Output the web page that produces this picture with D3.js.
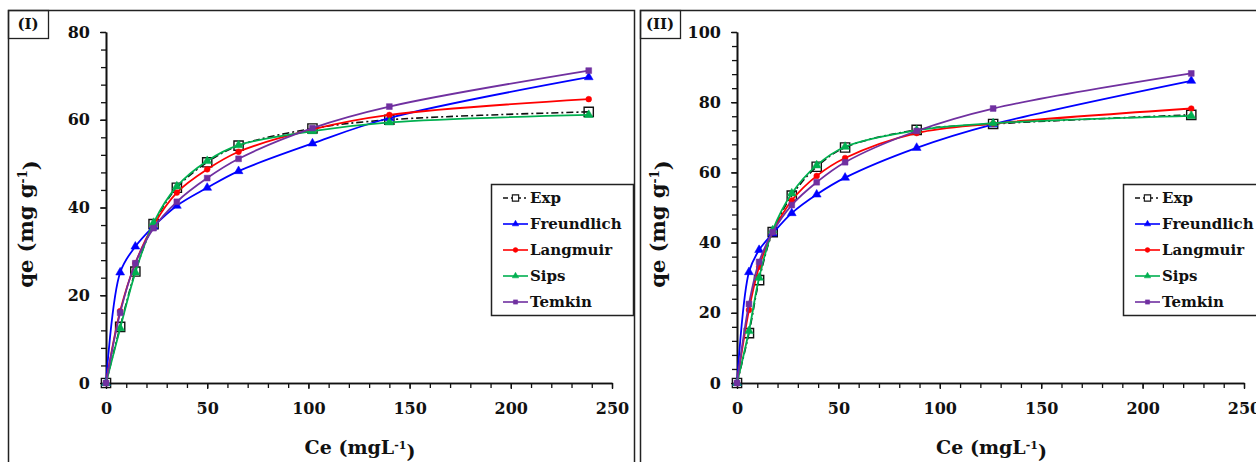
<!DOCTYPE html>
<html>
<head>
<meta charset="utf-8">
<script src="https://cdn.jsdelivr.net/npm/d3@7/dist/d3.min.js"></script>
<style>
  body { margin: 0; background: #fff; }
  text { font-family: "DejaVu Serif", serif; font-weight: bold; fill: #111; }
</style>
</head>
<body>
<script>
// ---- data ----
// panel (I)
const ceI          = [0, 7, 14.5, 23.5, 35, 50, 65.5, 102, 140, 238.5]
const expI         = [0, 12.8, 25.4, 36.2, 44.5, 50.3, 54.1, 58.0, 60.0, 61.8]
const freundlichI  = [0, 25.2, 31.1, 35.7, 40.4, 44.5, 48.3, 54.6, 60.4, 69.7]
const langmuirI    = [0, 16.4, 27.3, 36.0, 43.4, 48.7, 52.7, 57.8, 61.1, 64.7]
const sipsI        = [0, 12.5, 25.2, 36.5, 44.8, 50.6, 54.2, 57.4, 59.4, 61.1]
const temkinI      = [0, 16.0, 27.3, 35.3, 41.3, 46.7, 51.1, 58.1, 63.0, 71.2]

// panel (II)
const ceII         = [0, 5.9, 10.9, 17.6, 27, 39.3, 53.3, 88.6, 126.3, 224]
const expII        = [0, 14.2, 29.3, 43.0, 53.4, 61.6, 67.1, 72.1, 73.8, 76.4]
const freundlichII = [0, 31.6, 37.9, 42.6, 48.4, 53.7, 58.5, 67.0, 73.7, 86.1]
const langmuirII   = [0, 20.8, 33.1, 43.0, 52.0, 59.0, 64.1, 71.2, 73.9, 78.2]
const sipsII       = [0, 14.8, 30.0, 43.5, 54.0, 62.0, 67.3, 72.0, 74.0, 76.1]
const temkinII     = [0, 22.5, 34.5, 43.0, 50.7, 57.2, 62.9, 71.8, 78.2, 88.2]

const seriesNames  = ['Exp', 'Freundlich', 'Langmuir', 'Sips', 'Temkin']
const seriesColors = ['#111111', '#0000ff', '#ff0000', '#00b050', '#7030a0']
const seriesShapes = [d3.symbolSquare, d3.symbolTriangle, d3.symbolCircle, d3.symbolTriangle, d3.symbolSquare]

const xTicks   = [0, 50, 100, 150, 200, 250]
const yTicksI  = [0, 20, 40, 60, 80]
const yTicksII = [0, 20, 40, 60, 80, 100]

const svg = d3.select('body').append('svg')
    .attr('width', 1256)
    .attr('height', 462)

function drawPanel(p) {
    const g = svg.append('g')

    // outer frame
    g.append('rect')
        .attr('x', p.frameX + 0.5).attr('y', 10.5)
        .attr('width', p.frameW).attr('height', 480)
        .attr('fill', 'none').attr('stroke', '#222').attr('stroke-width', 1.5)

    // panel tag
    g.append('rect')
        .attr('x', p.frameX + 0.5).attr('y', 10.5)
        .attr('width', 40).attr('height', 28)
        .attr('fill', 'none').attr('stroke', '#222').attr('stroke-width', 1.3)
    g.append('text')
        .attr('x', p.frameX + 20).attr('y', 29)
        .attr('text-anchor', 'middle')
        .style('font-size', '15px')
        .text(p.tag)

    const x = d3.scaleLinear().domain([0, 250]).range(p.xRange)
    const y = d3.scaleLinear().domain([0, p.yMax]).range([383, 32])

    // minor ticks
    g.append('g')
        .attr('transform', 'translate(0,383)')
        .call(d3.axisBottom(x).tickValues(d3.range(0, 251, 10)).tickSize(5).tickSizeOuter(0).tickFormat(''))
    g.append('g')
        .attr('transform', 'translate(' + p.xRange[0] + ',0)')
        .call(d3.axisLeft(y).tickValues(d3.range(0, p.yMax + 1, 4)).tickSize(5).tickSizeOuter(0).tickFormat(''))

    // major ticks + labels
    g.append('g')
        .attr('transform', 'translate(0,383)')
        .call(d3.axisBottom(x).tickValues(xTicks).tickSize(6).tickSizeOuter(0).tickPadding(14))
    g.append('g')
        .attr('transform', 'translate(' + p.xRange[0] + ',0)')
        .call(d3.axisLeft(y).tickValues(p.yTicks).tickSize(6).tickSizeOuter(0).tickPadding(10))

    g.selectAll('.domain').attr('stroke', '#111').attr('stroke-width', 1.6)
    g.selectAll('.tick line').attr('stroke', '#111').attr('stroke-width', 1.3)
    g.selectAll('.tick text').style('font-size', '16px').style('font-family', '"DejaVu Serif", serif')
        .attr('fill', '#111')

    // axis titles
    const yt = g.append('text')
        .attr('transform', 'translate(' + (p.frameX + 25) + ',224) rotate(-90)')
        .attr('text-anchor', 'middle')
        .style('font-size', '21px')
    yt.append('tspan').text('qe (mg g')
    yt.append('tspan').attr('dy', '-0.5em').style('font-size', '12px').text('-1')
    yt.append('tspan').attr('dy', '0.5em').text(')')

    const xt = g.append('text')
        .attr('x', (p.xRange[0] + p.xRange[1]) / 2 + 1).attr('y', 454)
        .attr('text-anchor', 'middle')
        .style('font-size', '19px')
    xt.append('tspan').text('Ce (mgL')
    xt.append('tspan').attr('dy', '-0.5em').style('font-size', '11px').text('-1')
    xt.append('tspan').attr('dy', '0.5em').text(')')

    // series
    const line = d3.line()
        .x(d => x(d[0]))
        .y(d => y(d[1]))
        .curve(d3.curveCatmullRom.alpha(0.5))

    p.series.forEach((vals, i) => {
        const pts = p.ce.map((c, k) => [c, vals[k]])
        g.append('path')
            .datum(pts)
            .attr('d', line)
            .attr('fill', 'none')
            .attr('stroke', seriesColors[i])
            .attr('stroke-width', i == 0 ? 1.6 : 1.8)
            .attr('stroke-dasharray', i == 0 ? '7,3,2,3' : null)

        g.selectAll('.m' + i).data(pts)
            .enter()
            .append('path')
            .attr('transform', d => 'translate(' + x(d[0]) + ',' + y(d[1]) + ')')
            .attr('d', d3.symbol().type(seriesShapes[i]).size(i == 0 ? 85 : (i == 2 ? 26 : 34)))
            .attr('fill', i == 0 ? 'none' : seriesColors[i])
            .attr('stroke', seriesColors[i])
            .attr('stroke-width', i == 0 ? 1.4 : 0.5)
    })

    // legend
    const lg = g.append('g').attr('transform', 'translate(' + p.legendX + ',184)')
    lg.append('rect')
        .attr('x', 0.5).attr('y', 0.5)
        .attr('width', 142).attr('height', 131)
        .attr('fill', '#fff').attr('stroke', '#222').attr('stroke-width', 1.5)
    seriesNames.forEach((name, i) => {
        const cy = 14 + i * 26
        lg.append('line')
            .attr('x1', 12).attr('x2', 37).attr('y1', cy).attr('y2', cy)
            .attr('stroke', seriesColors[i]).attr('stroke-width', 1.6)
            .attr('stroke-dasharray', i == 0 ? '5,3,2,3' : null)
        lg.append('path')
            .attr('transform', 'translate(24.5,' + cy + ')')
            .attr('d', d3.symbol().type(seriesShapes[i]).size(i == 0 ? 40 : 18))
            .attr('fill', i == 0 ? '#fff' : seriesColors[i])
            .attr('stroke', seriesColors[i])
            .attr('stroke-width', i == 0 ? 1.1 : 0.5)
        lg.append('text')
            .attr('x', 39).attr('y', cy).attr('dy', '0.36em')
            .style('font-size', '15px')
            .text(name)
    })
}

drawPanel({
    frameX: 8, frameW: 626, tag: '(I)',
    xRange: [106, 612], yMax: 80, yTicks: yTicksI,
    ce: ceI, series: [expI, freundlichI, langmuirI, sipsI, temkinI],
    legendX: 491
})

drawPanel({
    frameX: 640, frameW: 640, tag: '(II)',
    xRange: [737, 1244], yMax: 100, yTicks: yTicksII,
    ce: ceII, series: [expII, freundlichII, langmuirII, sipsII, temkinII],
    legendX: 1123
})
</script>
</body>
</html>
